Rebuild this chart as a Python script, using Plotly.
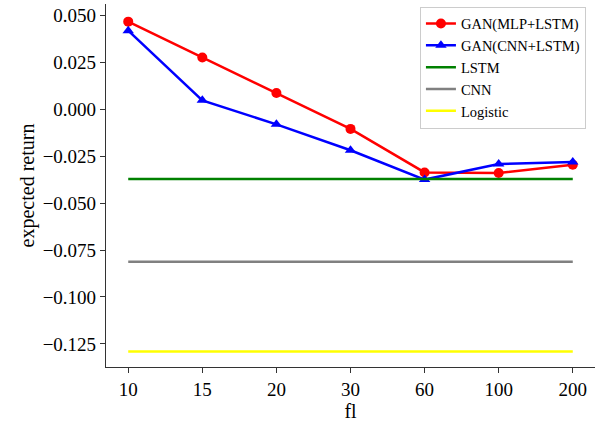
import plotly.graph_objects as go

categories = ["10", "15", "20", "30", "60", "100", "200"]
gan_mlp_lstm = [0.0466, 0.0275, 0.0086, -0.0105, -0.0337, -0.0340, -0.0296]
gan_cnn_lstm = [0.0418, 0.0047, -0.0081, -0.0219, -0.0375, -0.0292, -0.0281]
lstm_val = -0.0372
cnn_val = -0.0812
logistic_val = -0.1290
y_ticks = [0.05, 0.025, 0.0, -0.025, -0.05, -0.075, -0.1, -0.125]
y_tick_labels = ["0.050", "0.025", "0.000", "−0.025", "−0.050", "−0.075", "−0.100", "−0.125"]

font_family = "Liberation Serif"

fig = go.Figure()
fig.add_trace(go.Scatter(x=categories, y=gan_mlp_lstm, mode="lines+markers", name="GAN(MLP+LSTM)",
                         line=dict(color="#ff0000", width=2.5), marker=dict(symbol="circle", size=10, color="#ff0000")))
fig.add_trace(go.Scatter(x=categories, y=gan_cnn_lstm, mode="lines+markers", name="GAN(CNN+LSTM)",
                         line=dict(color="#0000ff", width=2.5), marker=dict(symbol="triangle-up", size=10, color="#0000ff")))
fig.add_trace(go.Scatter(x=categories, y=[lstm_val] * len(categories), mode="lines", name="LSTM",
                         line=dict(color="#008000", width=2.5)))
fig.add_trace(go.Scatter(x=categories, y=[cnn_val] * len(categories), mode="lines", name="CNN",
                         line=dict(color="#808080", width=2.5)))
fig.add_trace(go.Scatter(x=categories, y=[logistic_val] * len(categories), mode="lines", name="Logistic",
                         line=dict(color="#ffff00", width=2.5)))

fig.update_layout(
    width=595, height=423,
    margin=dict(l=106, r=0, t=4, b=56),
    plot_bgcolor="white", paper_bgcolor="white",
    font=dict(family=font_family, size=19, color="black"),
    legend=dict(x=0.642, y=0.993, xanchor="left", yanchor="top",
                bgcolor="white", bordercolor="#cccccc", borderwidth=1,
                font=dict(size=14.5, family=font_family), tracegroupgap=0, itemwidth=30),
    xaxis=dict(type="category", categoryorder="array", categoryarray=categories,
               range=[-0.3, 6.3], showgrid=False, showline=True, linecolor="#333333", linewidth=1.2,
               ticks="outside", ticklen=5, tickcolor="#333333",
               tickfont=dict(family=font_family, size=19),
               title=dict(text="fl", font=dict(size=20, family=font_family), standoff=0), zeroline=False),
    yaxis=dict(range=[-0.1373, 0.0560], showgrid=False, showline=True, linecolor="#333333", linewidth=1.2,
               ticks="outside", ticklen=5, tickcolor="#333333",
               tickvals=y_ticks, ticktext=y_tick_labels,
               tickfont=dict(family=font_family, size=19),
               title=dict(text="expected return", font=dict(size=20, family=font_family), standoff=2), zeroline=False),
)

fig.write_html("out.html", config={"displayModeBar": False},
               post_script="document.body.style.margin='0';")
